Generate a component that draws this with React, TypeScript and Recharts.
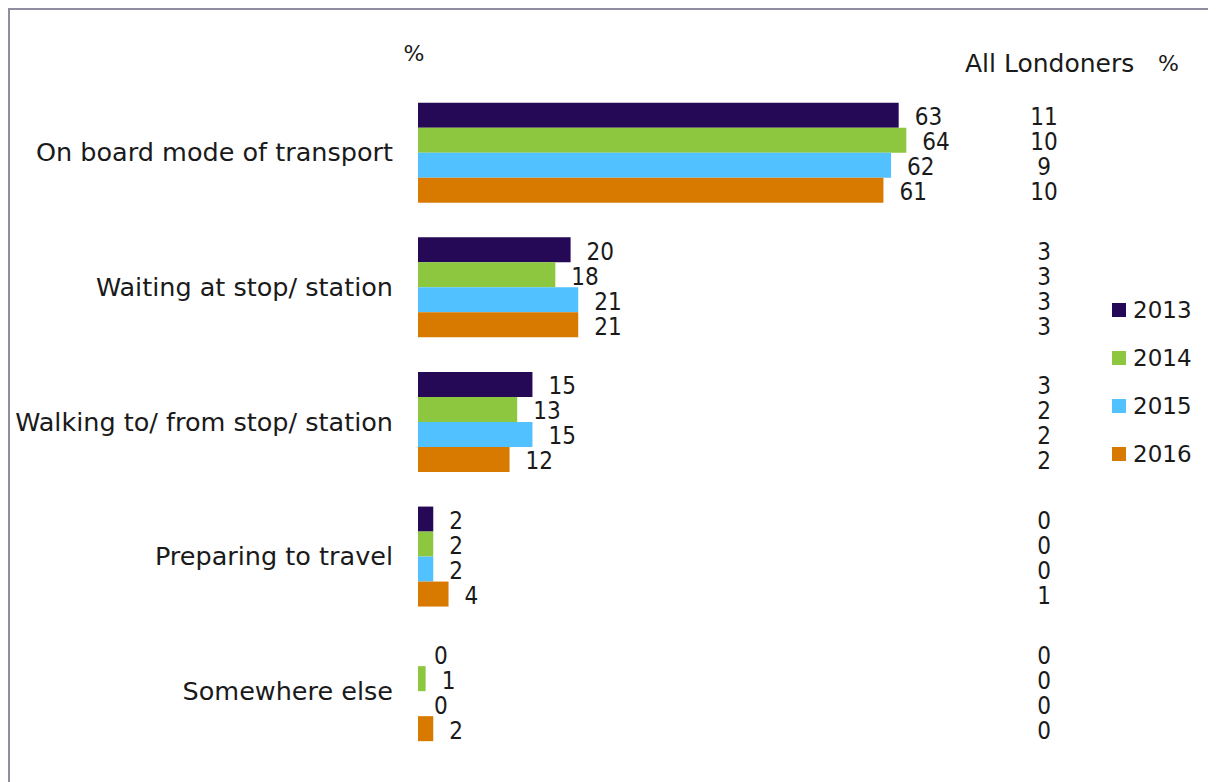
import React from "react";
import { BarChart, Bar, XAxis, YAxis, LabelList, Legend } from "recharts";

const categories = [
  "On board mode of transport",
  "Waiting at stop/ station",
  "Walking to/ from stop/ station",
  "Preparing to travel",
  "Somewhere else",
];
const years = ["2013", "2014", "2015", "2016"];
const s2013 = [63, 20, 15, 2, 0];
const s2014 = [64, 18, 13, 2, 1];
const s2015 = [62, 21, 15, 2, 0];
const s2016 = [61, 21, 12, 4, 2];
const all2013 = [11, 3, 3, 0, 0];
const all2014 = [10, 3, 2, 0, 0];
const all2015 = [9, 3, 2, 0, 0];
const all2016 = [10, 3, 2, 1, 0];
const colors = ["#250856", "#8DC63F", "#52C1FF", "#D87A00"];

const seriesValues = [s2013, s2014, s2015, s2016];
const allValues = [all2013, all2014, all2015, all2016];

const data = categories.map((c, i) => {
  const row: any = { category: c };
  years.forEach((y, k) => {
    row["y" + y] = seriesValues[k][i];
    row["a" + y] = allValues[k][i];
  });
  return row;
});

const TEXT = "#1a1a1a";
const NUM_FONT = "'DejaVu Sans Condensed', 'Liberation Sans', sans-serif";
const MAIN_FONT = "'DejaVu Sans', sans-serif";

const ValueLabel = (props: any) => {
  const { x, y, width, height, value } = props;
  return (
    <text
      x={x + width + 16}
      y={y + height / 2 + 2}
      fill={TEXT}
      fontSize={24}
      fontFamily={NUM_FONT}
      textAnchor="start"
      dominantBaseline="central"
    >
      {value}
    </text>
  );
};

const makeAllLabel = (key: string) => (props: any) => {
  const { x, y, height, index } = props;
  const v = data[index][key];
  return (
    <text
      x={x + 626}
      y={y + height / 2 + 2}
      fill={TEXT}
      fontSize={24}
      fontFamily={NUM_FONT}
      textAnchor="middle"
      dominantBaseline="central"
    >
      {v}
    </text>
  );
};

const CategoryTick = (props: any) => {
  const { y, payload } = props;
  return (
    <text
      x={383}
      y={y}
      fill={TEXT}
      fontSize={25.5}
      fontFamily={MAIN_FONT}
      textAnchor="end"
      dominantBaseline="central"
    >
      {payload.value}
    </text>
  );
};

const LegendContent = () => (
  <div style={{ fontFamily: MAIN_FONT }}>
    {years.map((y, k) => (
      <div
        key={y}
        style={{ height: 48, display: "flex", alignItems: "center" }}
      >
        <div
          style={{ width: 14, height: 14, background: colors[k], marginRight: 7 }}
        />
        <span style={{ fontSize: 23, color: TEXT, lineHeight: "48px" }}>{y}</span>
      </div>
    ))}
  </div>
);

export default function App() {
  return (
    <div
      style={{
        position: "relative",
        width: 1206,
        height: 772,
        borderTop: "2px solid #8e8ea0",
        borderLeft: "2px solid #8e8ea0",
        background: "#fff",
      }}
    >
      <BarChart
        width={1206}
        height={772}
        data={data}
        layout="vertical"
        margin={{ top: 75, right: 35, bottom: 24, left: 0 }}
        barGap={0}
        barCategoryGap="13.2%"
      >
        <XAxis type="number" domain={[0, 100]} hide />
        <YAxis
          type="category"
          dataKey="category"
          width={408}
          axisLine={false}
          tickLine={false}
          tick={<CategoryTick />}
        />
        <Legend
          layout="horizontal"
          verticalAlign="middle"
          align="center"
          content={<LegendContent />}
          wrapperStyle={{ left: 1102, top: 276, width: 100 }}
        />
        {years.map((y, k) => (
          <Bar
            key={y}
            dataKey={"y" + y}
            name={y}
            fill={colors[k]}
            minPointSize={0.01}
            isAnimationActive={false}
          >
            <LabelList dataKey={"y" + y} content={<ValueLabel />} />
            <LabelList dataKey={"a" + y} content={makeAllLabel("a" + y)} />
          </Bar>
        ))}
      </BarChart>
      <svg
        width={1206}
        height={772}
        style={{ position: "absolute", left: 0, top: 0, pointerEvents: "none" }}
      >
        <text x={404} y={43} fontSize={22} fill={TEXT} fontFamily={MAIN_FONT} textAnchor="middle" dominantBaseline="central">%</text>
        <text x={955} y={53} fontSize={25} fill={TEXT} fontFamily={MAIN_FONT} dominantBaseline="central">All Londoners</text>
        <text x={1148} y={53} fontSize={22} fill={TEXT} fontFamily={MAIN_FONT} dominantBaseline="central">%</text>
      </svg>
    </div>
  );
}
